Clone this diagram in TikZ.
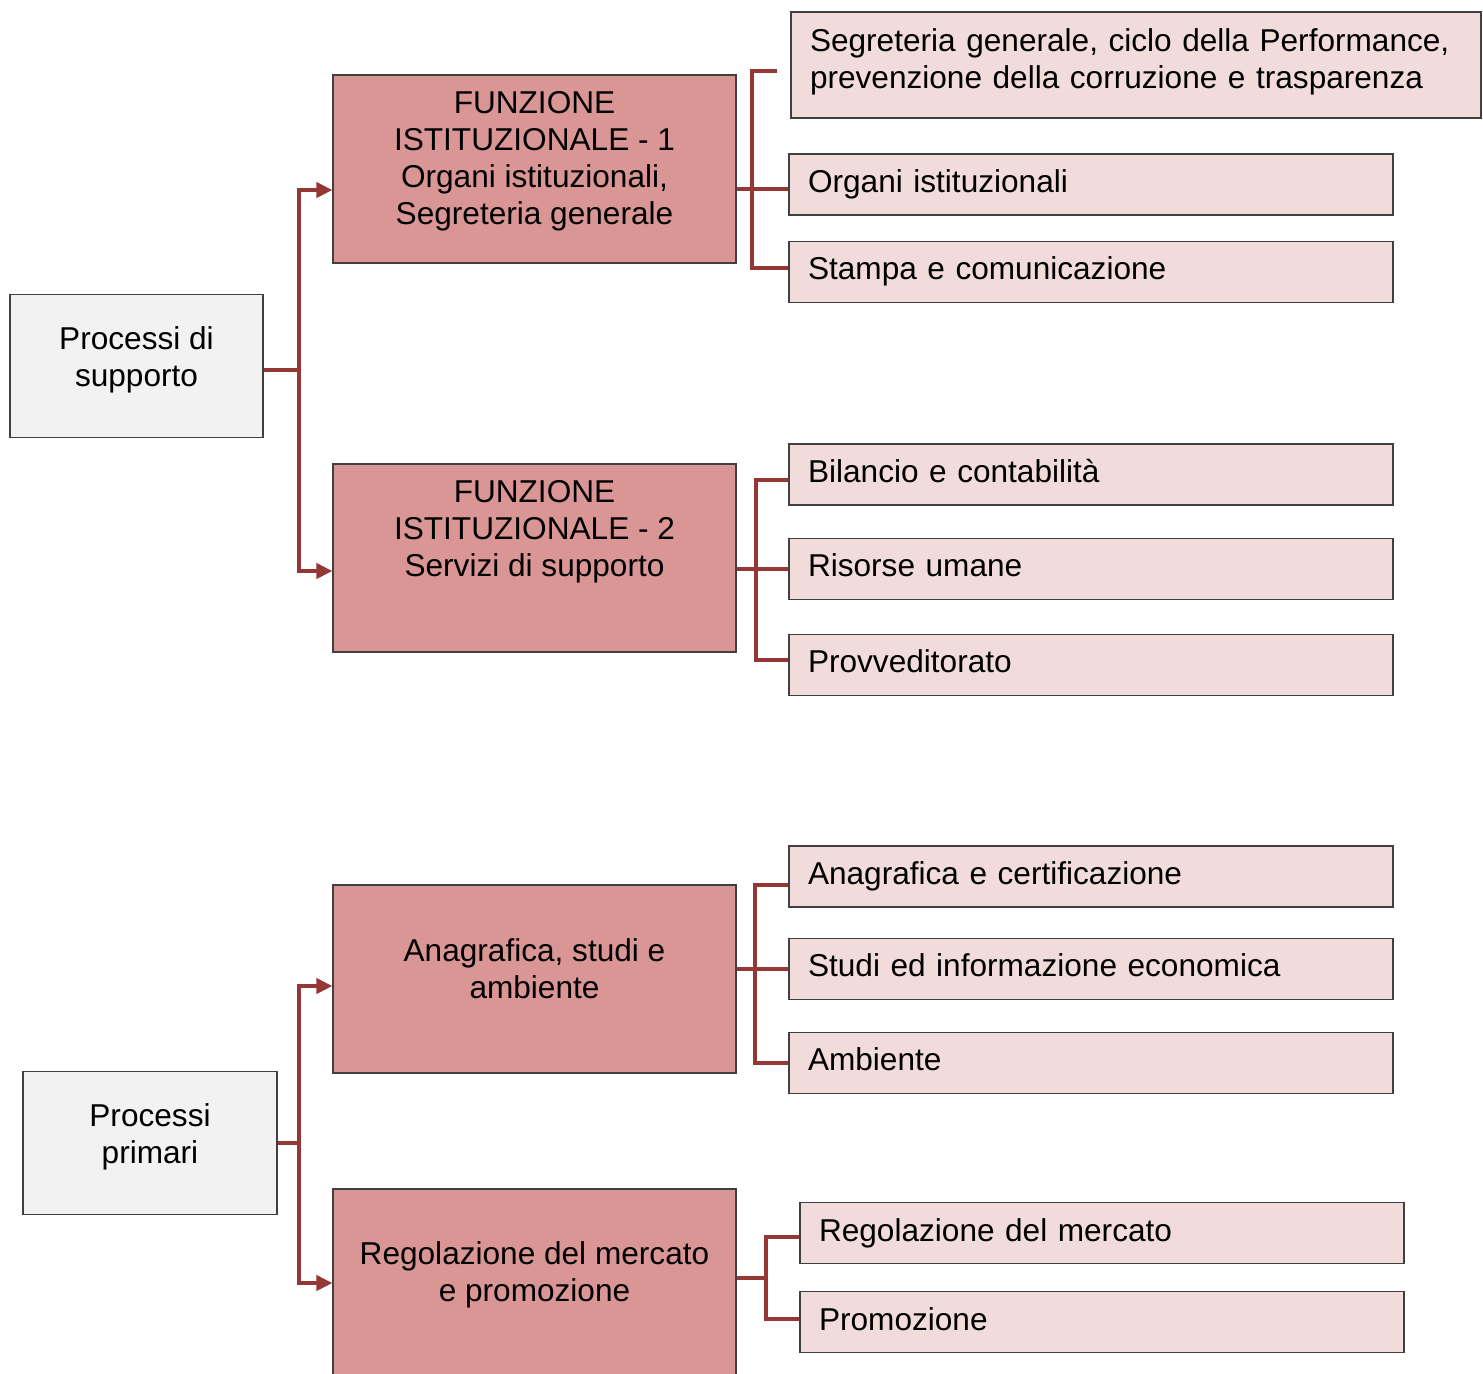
\documentclass[tikz,border=0pt]{standalone}
\usepackage{fontspec}
\setmainfont{Liberation Sans}
\usepackage{tikz}
\usetikzlibrary{positioning,arrows.meta}
\definecolor{linkred}{HTML}{953735}
\definecolor{midfill}{HTML}{D99694}
\definecolor{rightfill}{HTML}{F2DCDB}
\definecolor{leftfill}{HTML}{F2F2F2}
\tikzset{basebox/.style={draw=black!75, line width=0.6pt, rectangle, font=\fontsize{15.8}{18.5}\selectfont}}
\tikzset{leftbox/.style={basebox, fill=leftfill, minimum width=126.5pt, minimum height=71.5pt}}
\tikzset{midbox/.style={basebox, fill=midfill, minimum width=201.5pt, minimum height=94pt}}
\tikzset{rightbox/.style={basebox, fill=rightfill, minimum height=30.5pt, inner xsep=9.5pt, text width=283pt, align=left, text height=11.5pt, text depth=3.5pt}}
\tikzset{segbox/.style={basebox, fill=rightfill, minimum height=53pt, inner xsep=9.5pt, text width=326pt, align=left}}
\tikzset{link/.style={draw=linkred, line width=2pt}}
\tikzset{linkarr/.style={link, {Triangle[length=8pt,width=7.5pt]}-{Triangle[length=8pt,width=7.5pt]}}}
\newcommand{\boxlines}[3][c]{\begin{tabular}{@{}#1@{}}#3\\[#2]\end{tabular}}

\begin{document}
\begin{tikzpicture}[x=0.5pt, y=-0.5pt]
	\useasboundingbox (0,0) rectangle (1483,1373);
	% left column
	\node[leftbox] (sup) at (136.5,366) {\boxlines{5pt}{Processi di\\supporto}};
	\node[leftbox, minimum width=127pt] (pri) at (150,1143) {\boxlines{5.5pt}{Processi\\primari}};
	% middle column
	\node[midbox] (f1) at (534.5,169) {\boxlines{7pt}{FUNZIONE\\ISTITUZIONALE - 1\\Organi istituzionali,\\Segreteria generale}};
	\node[midbox] (f2) at (534.5,558) {\boxlines{7pt}{FUNZIONE\\ISTITUZIONALE - 2\\Servizi di supporto\\}};
	\node[midbox] (anag) at (534.5,979) {\boxlines{6.5pt}{Anagrafica, studi e\\ambiente}};
	\node[midbox] (reg) at (534.5,1283) {\boxlines{7pt}{Regolazione del mercato\\e promozione}};
	% right column
	\node[segbox] (seg) at (1136,65) {\boxlines[l]{2.5pt}{Segreteria generale, ciclo della Performance,\\prevenzione della corruzione e trasparenza}};
	\node[rightbox] (org) at (1091,184.5) {Organi istituzionali};
	\node[rightbox, below=12.5pt of org] (stp) {Stampa e comunicazione};
	\node[rightbox] (bil) at (1091,474.5) {Bilancio e contabilità};
	\node[rightbox, below=16pt of bil] (ris) {Risorse umane};
	\node[rightbox, below=17pt of ris] (prov) {Provveditorato};
	\node[rightbox] (cert) at (1091,876.5) {Anagrafica e certificazione};
	\node[rightbox, below=15pt of cert] (stud) {Studi ed informazione economica};
	\node[rightbox, below=16pt of stud] (amb) {Ambiente};
	\node[rightbox] (regm) at (1102,1233) {Regolazione del mercato};
	\node[rightbox, below=13.5pt of regm] (prom) {Promozione};

	% support fork
	\draw[link] ([yshift=-2pt]sup.east) -- ++(17.5pt,0) coordinate (supfork);
	\coordinate (f1in) at ([yshift=-10.5pt]f1.west);
	\coordinate (f2in) at ([yshift=-6.5pt]f2.west);
	\draw[linkarr] (f1in) -| (supfork) |- (f2in);
	% primary fork
	\draw[link] (pri.east) -- ++(10.5pt,0) coordinate (prifork);
	\coordinate (anagin) at ([yshift=-3.5pt]anag.west);
	\draw[linkarr] (anagin) -| (prifork) |- (reg.west);

	% brackets
	\coordinate (f1out) at ([yshift=-10pt]f1.east);
	\draw[link] (f1out) -- (f1out -| org.west);
	\coordinate (segtip) at ([xshift=-6.5pt,yshift=-3pt]seg.west);
	\draw[link] (segtip) -| ([xshift=7.5pt]f1.east) |- ([yshift=1.75pt]stp.west);

	\draw[link] (ris.west -| f2.east) -- (ris.west);
	\draw[link] ([yshift=-2.75pt]bil.west) -| ([xshift=9.5pt]f2.east) |- ([yshift=2.25pt]prov.west);

	\draw[link] (stud.west -| anag.east) -- (stud.west);
	\draw[link] ([yshift=-4.25pt]cert.west) -| ([xshift=9pt]anag.east) |- (amb.west);

	\draw[link] ([yshift=2.5pt]reg.east) -- ++(14.5pt,0);
	\draw[link] ([yshift=-2pt]regm.west) -| ([xshift=14.5pt]reg.east) |- ([yshift=1.75pt]prom.west);
\end{tikzpicture}
\end{document}
